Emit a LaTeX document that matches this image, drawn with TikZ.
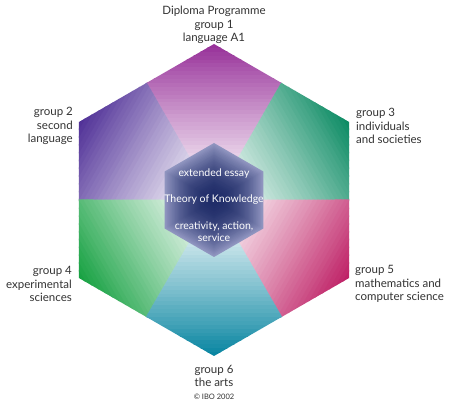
\documentclass[tikz,border=0pt]{standalone}
\usepackage{fontspec}
\setmainfont{Lato}
\definecolor{gA}{HTML}{962E98}
\definecolor{gB}{HTML}{4E2E96}
\definecolor{gC}{HTML}{0A8A62}
\definecolor{gD}{HTML}{14A040}
\definecolor{gE}{HTML}{BE1E64}
\definecolor{gF}{HTML}{0684A0}
\definecolor{hexdark}{HTML}{1F2C68}
\definecolor{hexlight}{HTML}{9095C0}
\definecolor{labelc}{HTML}{333333}
\begin{document}
\begin{tikzpicture}[x=1pt,y=1pt,
  lbl/.style={text=labelc, font=\fontsize{11.5}{13.5}\selectfont, inner sep=0pt},
  inlbl/.style={text=white, font=\fontsize{10.5}{12.5}\selectfont, inner sep=0pt, align=center}]
\useasboundingbox (0,0) rectangle (450,419);
\fill[white] (0,0) rectangle (450,419);
\coordinate (c) at (214,219);
% six kite-shaped sectors, each fading from its vertex colour to white
\foreach \ang/\col in {90/gA,150/gB,30/gC,210/gD,330/gE,270/gF}{
  \begin{scope}[shift={(c)}, rotate=\ang-90]
    \clip (0,-0.6) -- (68.0,116.75) -- (0,156) -- (-68.0,116.75) -- cycle;
    \foreach \i in {0,...,39}{
      \pgfmathtruncatemacro{\pct}{100*((\i+0.5)/40)^1.15}
      \fill[\col!\pct!white] (-80,{\i*3.9}) rectangle (80,{(\i+1)*3.9+0.6});
    }
  \end{scope}
}
% inner hexagon, dark centre fading to light edges
\begin{scope}[shift={(c)}]
  \foreach \i in {0,...,39}{
    \pgfmathsetmacro{\r}{57*(1-\i/40)}
    \pgfmathtruncatemacro{\pct}{100*(1-((40-\i)/40)^2)}
    \fill[hexdark!\pct!hexlight] (90:\r) -- (150:\r) -- (210:\r) -- (270:\r) -- (330:\r) -- (30:\r) -- cycle;
  }
\end{scope}
% labels
\node[lbl, align=center] (g1) at (214,394) {Diploma Programme\\group 1\\language A1};
\node[lbl, align=right, anchor=east] (g2) at (73,293) {group 2\\second\\language};
\node[lbl, align=left, anchor=west] (g3) at (356,293) {group 3\\individuals\\and societies};
\node[lbl, align=right, anchor=east] (g4) at (72,135) {group 4\\experimental\\sciences};
\node[lbl, align=left, anchor=west] (g5) at (355,135) {group 5\\mathematics and\\computer science};
\node[lbl, align=center] (g6) at (214,43) {group 6\\the arts};
\node[lbl, font=\fontsize{7.5}{9}\selectfont] (copy) at (214,22) {© IBO 2002};
\node[inlbl] (ee) at (214,245) {extended essay};
\node[inlbl] (tok) at (214,219) {Theory of Knowledge};
\node[inlbl] (cas) at (214,187.5) {creativity, action,\\service};
\end{tikzpicture}
\end{document}
